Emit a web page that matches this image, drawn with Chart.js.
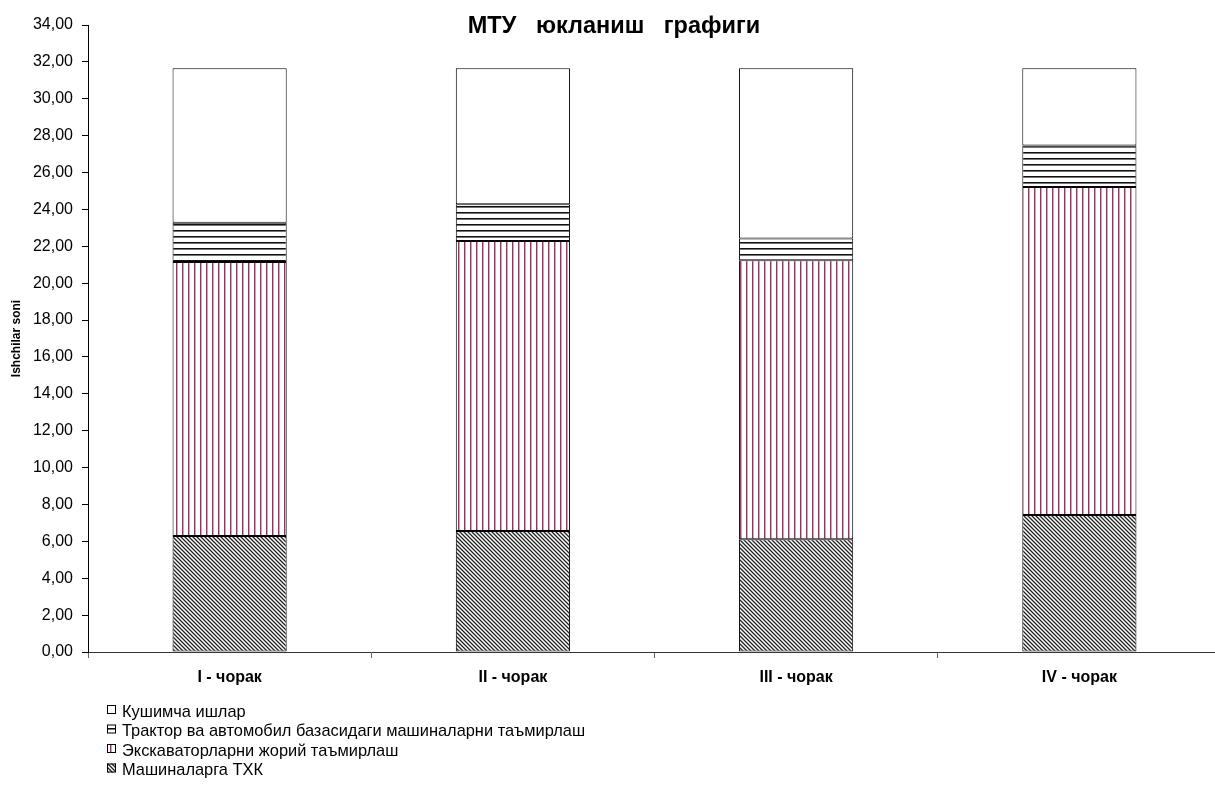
<!DOCTYPE html>
<html>
<head>
<meta charset="utf-8">
<script src="https://cdn.jsdelivr.net/npm/chart.js@4/dist/chart.umd.min.js"></script>
<style>
  html, body { margin: 0; padding: 0; background: #fff; overflow: hidden; }
  #wrap { width: 1225px; height: 785px; }
</style>
</head>
<body>
<div id="wrap"><canvas id="chart" width="1225" height="785"></canvas></div>
<script>
// МТУ юкланиш графиги — stacked bars with hatched fills

var categories  = ["I - чорак", "II - чорак", "III - чорак", "IV - чорак"];
var seriesNames = ["Машиналарга ТХК", "Экскаваторларни жорий таъмирлаш",
                   "Трактор ва автомобил базасидаги машиналарни таъмирлаш", "Кушимча ишлар"];
var txk       = [6.29, 6.56, 6.11, 7.43];
var excavator = [14.86, 15.73, 15.14, 17.79];
var tractor   = [2.12, 1.99, 1.17, 2.24];
var extra     = [8.38, 7.37, 9.23, 4.19];
var yTicks    = { min: 0, max: 34, step: 2 };

var FONT = "'Liberation Sans', Arial, sans-serif";

// hatch patterns (Excel style)
function makePattern(kind) {
  var c = document.createElement("canvas");
  var ctx = c.getContext("2d");
  if (kind === "diag") {
    c.width = 4; c.height = 4;
    ctx.fillStyle = "#fff"; ctx.fillRect(0, 0, 4, 4);
    ctx.strokeStyle = "#222"; ctx.lineWidth = 1.3;
    ctx.beginPath();
    ctx.moveTo(-1, -1); ctx.lineTo(5, 5);
    ctx.moveTo(-3, 1);  ctx.lineTo(3, 7);
    ctx.moveTo(1, -3);  ctx.lineTo(7, 3);
    ctx.stroke();
  } else if (kind === "vert") {
    c.width = 6; c.height = 6;
    ctx.fillStyle = "#fff"; ctx.fillRect(0, 0, 6, 6);
    ctx.fillStyle = "#993366"; ctx.fillRect(2, 0, 1, 6);
    ctx.fillStyle = "rgba(153,51,102,0.45)"; ctx.fillRect(3, 0, 1, 6);
  } else if (kind === "horiz") {
    c.width = 6; c.height = 6;
    ctx.fillStyle = "#fff"; ctx.fillRect(0, 0, 6, 6);
    ctx.fillStyle = "#111"; ctx.fillRect(0, 2, 6, 1);
    ctx.fillStyle = "rgba(0,0,0,0.55)"; ctx.fillRect(0, 3, 6, 1);
  } else {
    c.width = 2; c.height = 2;
    ctx.fillStyle = "#fff"; ctx.fillRect(0, 0, 2, 2);
  }
  return ctx.createPattern(c, "repeat");
}

var fills = [makePattern("diag"), makePattern("vert"), makePattern("horiz"), makePattern("white")];
var seriesData = [txk, excavator, tractor, extra];

function fmt(v) { return v.toFixed(2).replace(".", ","); }

// title drawn over the top of the plot like the original
var titlePlugin = {
  id: "excelTitle",
  afterDraw: function(chart) {
    var ctx = chart.ctx;
    ctx.save();
    ctx.font = "bold 23.5px " + FONT;
    ctx.fillStyle = "#000";
    ctx.textAlign = "center";
    ctx.textBaseline = "middle";
    ctx.fillText("МТУ   юкланиш   графиги", 614, 27);
    ctx.restore();
  }
};

// legend: one column, bottom-left, top series first
var legendPlugin = {
  id: "excelLegend",
  afterDraw: function(chart) {
    var ctx = chart.ctx;
    var x0 = 107, y0 = 711, step = 19.5;
    ctx.save();
    ctx.font = "16.4px " + FONT;
    ctx.textBaseline = "middle";
    ctx.textAlign = "left";
    for (var i = 0; i < seriesNames.length; i++) {
      var k = seriesNames.length - 1 - i;
      var y = y0 + i * step;
      ctx.fillStyle = fills[k];
      ctx.fillRect(x0, y - 6, 9, 9);
      ctx.strokeStyle = "#000"; ctx.lineWidth = 1;
      ctx.strokeRect(x0 + 0.5, y - 5.5, 8, 8);
      ctx.fillStyle = "#000";
      ctx.fillText(seriesNames[k], x0 + 15, y + 1);
    }
    ctx.restore();
  }
};

var datasets = seriesNames.map(function(name, i) {
  return {
    label: name,
    data: seriesData[i],
    backgroundColor: fills[i],
    borderColor: "#000",
    borderWidth: 1,
    borderSkipped: false,
    categoryPercentage: 1,
    barPercentage: 0.403
  };
});

new Chart(document.getElementById("chart"), {
  type: "bar",
  data: { labels: categories, datasets: datasets },
  options: {
    responsive: false,
    animation: false,
    layout: { padding: { top: 25, right: 4, bottom: 0, left: 0 } },
    plugins: {
      legend: { display: false },
      tooltip: { enabled: false },
      title: { display: false }
    },
    scales: {
      x: {
        stacked: true,
        afterFit: function(scale) { scale.height = 133; },
        grid: { drawOnChartArea: false, tickLength: 6, color: "#666", offset: true },
        border: { display: true, color: "#333", width: 1 },
        ticks: { font: { family: FONT, size: 16, weight: "bold" }, color: "#000", padding: 10, maxRotation: 0 }
      },
      y: {
        stacked: true,
        min: yTicks.min, max: yTicks.max,
        afterFit: function(scale) { scale.width = 88; },
        grid: { drawOnChartArea: false, tickLength: 6, color: "#000" },
        border: { display: true, color: "#000", width: 1 },
        ticks: {
          stepSize: yTicks.step,
          font: { family: FONT, size: 16 }, color: "#000", padding: 9,
          callback: function(v) { return fmt(v); }
        },
        title: {
          display: true, text: "Ishchilar soni",
          font: { family: FONT, size: 12, weight: "bold" }, color: "#000",
          padding: { top: 9, bottom: 0 }
        }
      }
    }
  },
  plugins: [titlePlugin, legendPlugin]
});
</script>
</body>
</html>
